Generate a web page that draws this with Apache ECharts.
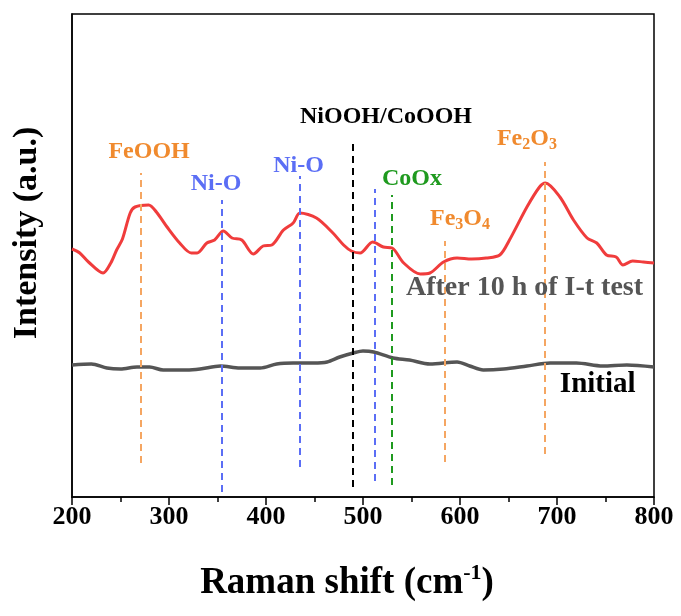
<!DOCTYPE html>
<html><head><meta charset="utf-8">
<script src="https://cdn.jsdelivr.net/npm/echarts@6/dist/echarts.min.js"></script>
<style>html,body{margin:0;padding:0;background:#fff}#c{width:681px;height:616px}</style>
</head><body><div id="c"></div>
<script>
// After 10 h of I-t test (red) spectrum: [Raman shift, intensity a.u.]
const afterX = [200,208,217,232,240,246,252,260,265,279,287,298,311,323,329,339,347,356,365,375,387,397,406,418,428,435,452,469,480,488,497,510,521,530,542,559,569,583,597,612,627,641,651,669,682,688,703,717,731,741,751,761,768,778,789,800];
const afterY = [248,244,235,224,234,247,258,284,290,292,285,270,254,244,244,254,257,266,259,257,243,251,252,267,274,284,279,264,252,246,244,255,250,249,234,223,224,235,239,238,239,242,257,290,310,314,300,277,259,254,242,240,232,236,235,234];
// Initial (gray) spectrum
const initX = [200,220,236,250,267,280,294,318,332,353,373,394,411,428,449,463,476,490,500,511,531,548,569,597,610,624,645,669,693,720,747,772,800];
const initY = [132,133,129,128,130,130,127,127,128,131,129,129,133,134,134,135,140,144,146,145,139,137,133,135,131,127,128,131,134,134,131,132,130];
// Reference peak positions (dashed markers): x, bottom, top
const peakNames = ['FeOOH','Ni-O','Ni-O','NiOOH/CoOOH','Ni-O(2)','CoOx','Fe3O4','Fe2O3'];
const peakX     = [271, 354, 435, 489.5, 512.5, 530, 584, 687];
const peakLo    = [34, 5, 30, 10, 16, 12, 35, 43];
const peakHi    = [324, 297, 321, 358, 308, 302, 256, 335];
const peakColor = ['#f5a662','#5b6ef5','#5b6ef5','#000000','#5b6ef5','#1f9a1f','#f5a662','#f5a662'];
// Text annotations: formatter, x, y, color
const annText  = ['{a|FeOOH}','{a|Ni-O}','{a|Ni-O}','{a|NiOOH/CoOOH}','{a|CoOx}','{a|Fe}{s|3}{a|O}{s|4}','{a|Fe}{s|2}{a|O}{s|3}','{b|After 10 h of I-t test}','{c|Initial}'];
const annX     = [279.5, 348.5, 433.5, 523.7, 550.5, 600, 669, 666.5, 742];
const annY     = [344, 312, 330, 379, 317, 277, 357, 209, 112];
const annColor = ['#f08a2e','#5b6ef5','#5b6ef5','#000000','#1f9a1f','#f08a2e','#f08a2e','#555555','#000000'];

const font = '"Liberation Serif","Times New Roman",serif';
const zip = (a,b)=>a.map((v,i)=>[v,b[i]]);

const markData = peakX.map((x,i)=>[
  {coord:[x,peakLo[i]], lineStyle:{color:peakColor[i], type:[7,5], width:2}},
  {coord:[x,peakHi[i]]}
]);

const annData = annX.map((x,i)=>({
  value:[x,annY[i]],
  label:{show:true, position:'inside', formatter:annText[i], opacity:1,
    rich:{
      a:{fontFamily:font,fontWeight:'bold',fontSize:24,color:annColor[i],lineHeight:26,verticalAlign:'top'},
      s:{fontFamily:font,fontWeight:'bold',fontSize:16,color:annColor[i],lineHeight:16,verticalAlign:'bottom',padding:[14,0,0,0]},
      b:{fontFamily:font,fontWeight:'bold',fontSize:28,color:annColor[i]},
      c:{fontFamily:font,fontWeight:'bold',fontSize:29,color:annColor[i]}
    }}
}));

const chart = echarts.init(document.getElementById('c'), null, {renderer:'canvas'});
chart.setOption({
  animation:false,
  grid:{left:72, right:27, top:14, bottom:119, containLabel:false, outerBoundsMode:'none',
        show:true, borderColor:'#000', borderWidth:1.5},
  xAxis:{type:'value', min:200, max:800, interval:100,
    axisLine:{show:true, lineStyle:{color:'#000', width:1.5}},
    axisTick:{show:true, length:8, lineStyle:{color:'#000', width:1.5}},
    minorTick:{show:true, splitNumber:2, length:5, lineStyle:{color:'#000', width:1.5}},
    splitLine:{show:false},
    axisLabel:{fontFamily:font, fontWeight:'bold', fontSize:26, color:'#000', margin:7},
    name:'{n|Raman shift (cm}{p|-1}{n|)}', nameLocation:'middle', nameGap:65,
    nameTextStyle:{padding:[0,32,0,0], rich:{
      n:{fontFamily:font,fontWeight:'bold',fontSize:37,color:'#000',lineHeight:40,verticalAlign:'bottom'},
      p:{fontFamily:font,fontWeight:'bold',fontSize:22,color:'#000',lineHeight:22,verticalAlign:'top',padding:[0,0,16,0]}
    }}
  },
  yAxis:{type:'value', min:0, max:483,
    axisLine:{show:true, lineStyle:{color:'#000', width:1.5}},
    axisTick:{show:false}, axisLabel:{show:false}, splitLine:{show:false},
    name:'Intensity (a.u.)', nameLocation:'middle', nameGap:28, nameRotate:90,
    nameTextStyle:{fontFamily:font, fontWeight:'bold', fontSize:34, color:'#000', padding:[0,0,0,45]}
  },
  series:[
    {type:'line', name:'Initial', data:zip(initX,initY), showSymbol:false, smooth:0.3,
     lineStyle:{color:'#555555', width:3.5}, z:3},
    {type:'line', name:'After 10 h of I-t test', data:zip(afterX,afterY), showSymbol:false, smooth:0.3,
     lineStyle:{color:'#f03c3c', width:3}, z:4,
     markLine:{silent:true, symbol:['none','none'], label:{show:false}, data:markData}},
    {type:'scatter', data:annData, symbolSize:0, z:5, silent:true, itemStyle:{opacity:1}}
  ]
});
</script></body></html>
